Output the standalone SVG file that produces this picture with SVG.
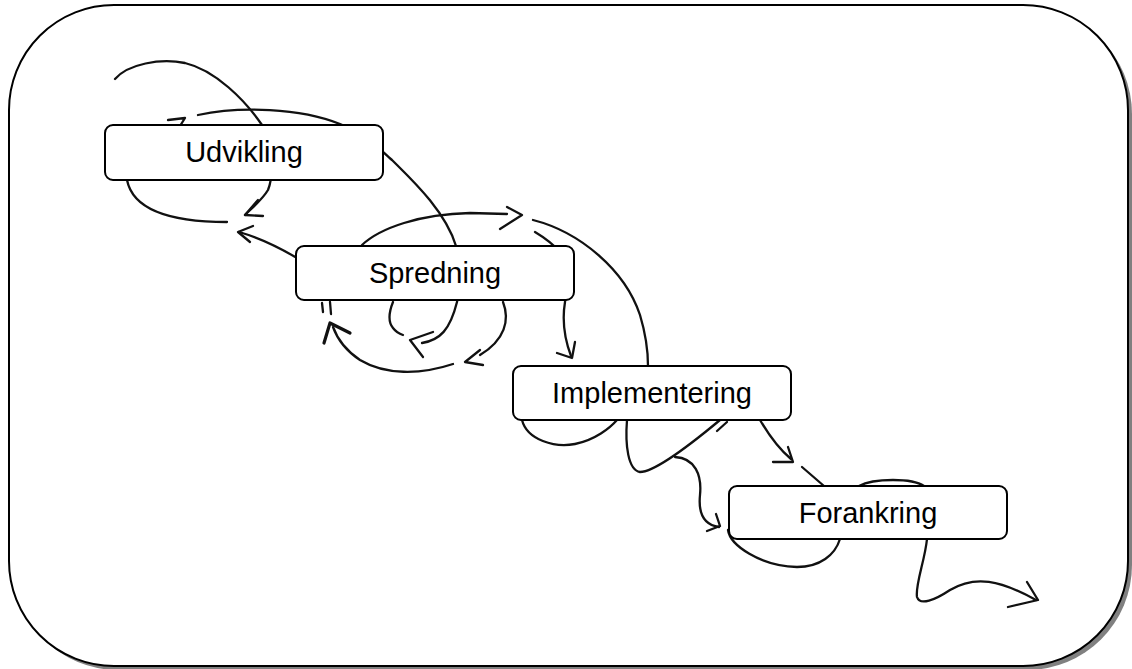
<svg xmlns="http://www.w3.org/2000/svg" width="1132" height="669" viewBox="0 0 1132 669">
<style>
.frame{fill:#fff;stroke:#000;stroke-width:2}
.shadow{fill:#808080}
.node rect{fill:#fff;stroke:#000;stroke-width:2}
.node text{font-family:"Liberation Sans",Arial,sans-serif;font-size:29px;fill:#000;text-anchor:middle}
.c path,.c polyline{fill:none;stroke:#111;stroke-width:2.3;stroke-linecap:round;stroke-linejoin:round}
.c .thick{stroke-width:3.2}
</style>
<rect class="shadow" x="13" y="9" width="1119" height="661" rx="105"/>
<rect class="frame" x="9" y="5" width="1119" height="661" rx="105"/>
<g id="connectors" class="c">
  <path d="M115,79 C128,64 160,58 185,63 C215,70 245,100 262,125 C272,150 274,175 268,190 C262,200 252,208 245,215"/>
  <polyline points="263,216 245,215 258,200"/>
  <path d="M127,180 C132,205 160,222 227,222"/>
  <polyline points="168,120 185,118 180,126"/>
  <path d="M198,115 C240,106 300,108 340,124 C370,136 380,150 392,160 C410,178 445,210 456,246 C460,270 460,290 457,302 C450,330 440,340 422,343"/>
  <polyline points="433,332 410,340 423,357"/>
  <path d="M393,302 C389,312 388,322 393,328 C396,332 400,334 403,335"/>
  <path d="M362,245 C380,228 420,214 470,213 L507,214"/>
  <polyline points="507,207 522,215 500,229"/>
  <path d="M533,220 C580,232 625,270 640,315 C646,335 648,350 648,366"/>
  <path d="M535,232 C545,238 552,243 560,252 C566,270 567,290 565,302 C562,320 565,340 571,356"/>
  <polyline points="557,353 572,358 575,342"/>
  <path d="M503,302 C510,320 505,340 480,355"/>
  <polyline points="480,350 465,362 483,365"/>
  <path d="M453,364 C420,375 385,375 360,360 C345,350 337,338 333,327"/>
  <polyline class="thick" points="324,343 330,323 350,333"/>
  <path d="M322,303 L323,312 M330,302 L331,314"/>
  <path d="M297,258 C280,248 260,238 239,232"/>
  <polyline points="253,226 238,232 250,242"/>
  <path d="M522,420 C527,440 555,448 575,444 C595,440 610,428 617,420"/>
  <path d="M627,420 C625,445 628,470 640,472 C655,472 690,445 720,420"/>
  <path d="M717,431 L727,422"/>
  <path d="M675,457 C695,458 702,475 700,495 C698,515 705,525 719,527"/>
  <polyline points="707,531 720,526 716,514"/>
  <path d="M760,420 C770,437 780,450 791,459"/>
  <polyline points="773,462 793,462 788,447"/>
  <path d="M802,467 L824,486"/>
  <path d="M859,486 C868,481 880,480 893,480 C905,480 918,482 924,486"/>
  <path d="M728,530 C730,545 760,566 797,567 C820,567 835,555 840,539"/>
  <path d="M927,539 C925,560 915,585 917,597 C920,606 935,600 950,590 C975,575 1000,580 1036,600"/>
  <polyline points="1027,582 1038,600 1008,607"/>
</g>
<g id="node-udvikling" class="node">
  <rect x="105" y="125" width="278" height="55" rx="8"/>
  <text x="244" y="162">Udvikling</text>
</g>
<g id="node-spredning" class="node">
  <rect x="296" y="246" width="278" height="54" rx="8"/>
  <text x="435" y="283">Spredning</text>
</g>
<g id="node-implementering" class="node">
  <rect x="513" y="366" width="278" height="54" rx="8"/>
  <text x="652" y="403">Implementering</text>
</g>
<g id="node-forankring" class="node">
  <rect x="729" y="486" width="278" height="53" rx="8"/>
  <text x="868" y="523">Forankring</text>
</g>
</svg>
